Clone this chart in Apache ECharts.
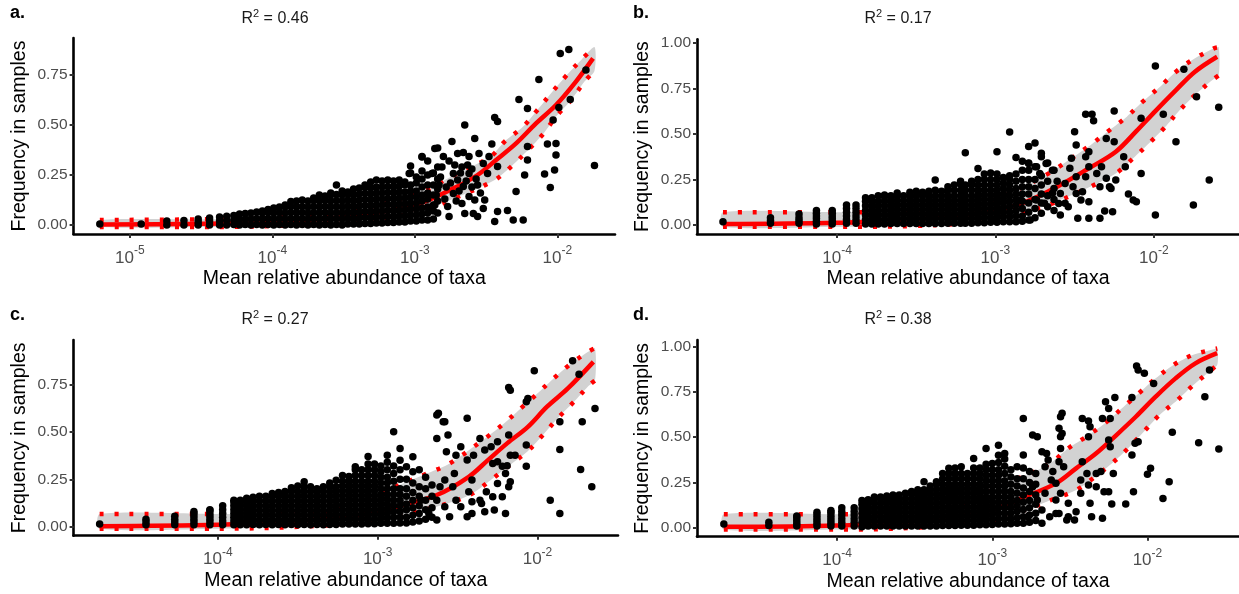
<!DOCTYPE html>
<html><head><meta charset="utf-8">
<script src="https://cdn.jsdelivr.net/npm/echarts@6/dist/echarts.min.js"></script>
<style>html,body{margin:0;padding:0;background:#fff}#c{width:1239px;height:594px}</style>
</head><body><div id="c"></div>
<script>
// ---------- text ----------
const panelLabels = ['a.', 'b.', 'c.', 'd.'];
const r2Values = ['0.46', '0.17', '0.27', '0.38'];
const xTitle = 'Mean relative abundance of taxa';
const yTitle = 'Frequency in samples';
// x ticks are log10 of mean relative abundance
const xTicksA = [-5, -4, -3, -2];
const xTicksB = [-4, -3, -2];
const xTicksC = [-4, -3, -2];
const xTicksD = [-4, -3, -2];
const yTicksAC = [0, 0.25, 0.5, 0.75];
const yTicksBD = [0, 0.25, 0.5, 0.75, 1];

// ---------- points: x = log10(mean relative abundance), y = frequency ----------
// dense part written as columns [x, y1, y2, ...]
const colsA = [
[-5.21,.005],[-4.92,.005],[-4.74,0,.02],[-4.62,0,.022],[-4.52,0,.015,.03],[-4.44,0,.02,.035],
[-4.37,0,.02,.04],[-4.32,0,.022,.044],[-4.27,.002,.025,.048],[-4.23,0,.028,.055],[-4.19,.003,.03,.058],
[-4.15,0,.03,.06],[-4.11,.003,.033,.065],[-4.07,0,.03,.06,.07],[-4.03,.003,.033,.063,.078],
[-3.99,0,.03,.06,.085],[-3.95,.003,.033,.063,.09],[-3.91,0,.03,.06,.09,.1],[-3.87,.003,.033,.063,.093,.118],
[-3.83,0,.03,.06,.09,.12],[-3.79,.003,.033,.063,.093,.125],[-3.75,0,.03,.06,.09,.12],
[-3.71,.003,.033,.063,.093,.123,.135],[-3.67,0,.03,.06,.09,.12,.15],[-3.63,.003,.033,.063,.093,.123,.145],
[-3.59,0,.03,.06,.09,.12,.15,.16],[-3.55,.003,.033,.063,.093,.123,.153,.2],[-3.51,0,.03,.06,.09,.12,.15,.17],
[-3.47,.005,.035,.065,.095,.125,.155,.165],[-3.43,.005,.03,.06,.09,.12,.15,.18],
[-3.39,.005,.035,.065,.095,.125,.155,.185],[-3.35,.008,.038,.068,.098,.128,.158,.188,.2],
[-3.31,.008,.035,.065,.095,.125,.155,.185,.215],[-3.27,.01,.04,.07,.1,.13,.16,.19,.225],
[-3.23,.01,.04,.07,.1,.13,.16,.19,.22],[-3.19,.012,.042,.072,.102,.132,.162,.192,.225],
[-3.15,.012,.04,.07,.1,.13,.16,.19,.22],[-3.11,.015,.045,.075,.105,.135,.165,.195,.225],
[-3.07,.015,.045,.075,.105,.135,.165,.2,.215],[-3.03,.02,.05,.08,.11,.14,.17,.2,.26,.295],
[-2.99,.02,.05,.08,.11,.14,.17,.21,.24],[-2.95,.025,.055,.085,.12,.15,.19,.23,.27,.34],
[-2.91,.025,.06,.09,.13,.16,.2,.25,.32],[-2.87,.03,.07,.1,.15,.2,.26],[-2.84,.06,.12,.18,.23,.29,.385]
];
const sparseA = [
[-3.04,.258],[-2.86,.383],[-2.80,.342],[-2.74,.417],[-2.70,.358],[-2.66,.362],[-2.65,.5],[-2.62,.342],
[-2.58,.433],[-2.55,.358],[-2.52,.308],[-2.49,.258],[-2.48,.342],[-2.46,.405],[-2.44,.538],[-2.42,.517],
[-2.56,.2],[-2.59,.058],[-2.52,.083],[-2.51,.125],[-2.44,.017],[-2.42,.067],[-2.35,.072],[-2.31,.025],
[-2.24,.025],[-2.29,.167],[-2.42,.292],[-2.27,.628],[-2.21,.583],[-2.23,.25],[-2.21,.325],[-2.21,.392],
[-2.13,.728],[-2.09,.255],[-2.07,.405],[-2.05,.188],[-2.03,.525],[-2.02,.275],[-2.01,.35],[-2.01,.408],
[-1.99,.588],[-1.98,.858],[-1.92,.878],[-1.91,.628],[-1.80,.775],[-1.74,.297],
[-2.77,.092],[-2.73,.158],[-2.67,.108],[-2.62,.142],[-2.66,.192],[-2.70,.225],[-2.62,.258],
[-2.76,.042],[-2.65,.058],[-2.58,.125],[-2.73,.258],[-2.67,.29],[-2.81,.29],[-2.88,.258],[-2.95,.342],[-2.56,.042],
[-2.86,.1],[-2.85,.15],[-2.83,.2],[-2.82,.24],[-2.79,.13],[-2.78,.19],[-2.76,.32],[-2.75,.21],[-2.72,.3],
[-2.71,.12],[-2.69,.17],[-2.68,.26],[-2.64,.22],[-2.63,.3],[-2.60,.19],[-2.60,.28],[-2.57,.23],[-2.54,.16]
];
const colsB = [
[-4.72,.018],[-4.42,.01,.025,.04],[-4.24,.01,.025,.04,.06],[-4.13,.005,.02,.035,.05,.065,.08],
[-4.03,.005,.02,.035,.05,.065,.08],[-3.94,.01,.03,.05,.07,.09,.11],[-3.88,.01,.03,.05,.07,.09,.11],
[-3.82,.005,.03,.055,.08,.105,.13,.15],[-3.78,.005,.03,.055,.08,.105,.13,.15],[-3.74,.005,.03,.055,.08,.105,.13,.16],
[-3.70,.005,.03,.055,.08,.105,.13,.155,.165],[-3.66,.008,.035,.06,.085,.11,.135,.16],
[-3.62,.008,.035,.06,.085,.11,.135,.16,.175],[-3.58,.008,.035,.06,.085,.11,.135,.16],
[-3.54,.008,.035,.06,.085,.11,.135,.16,.18],[-3.50,.008,.035,.06,.085,.11,.135,.16,.185],
[-3.46,.008,.035,.06,.085,.11,.135,.16,.18],[-3.42,.008,.035,.06,.085,.11,.135,.16,.185],
[-3.38,.008,.035,.06,.085,.11,.135,.16,.19,.247],[-3.34,.008,.035,.06,.085,.11,.135,.16,.185],
[-3.30,.01,.035,.06,.085,.11,.135,.16,.19,.21],[-3.26,.01,.035,.06,.085,.11,.135,.16,.19,.22],
[-3.22,.01,.035,.06,.085,.11,.135,.16,.19,.225,.24],[-3.19,.01,.035,.06,.085,.11,.135,.16,.19,.22,.397],
[-3.15,.01,.035,.06,.085,.11,.135,.16,.19,.22,.24],[-3.11,.012,.04,.065,.09,.115,.14,.165,.19,.22,.25,.31],
[-3.07,.012,.04,.065,.09,.115,.14,.165,.19,.22,.25,.28],[-3.03,.015,.04,.065,.09,.115,.14,.165,.19,.22,.25,.285],
[-2.99,.015,.04,.065,.09,.115,.14,.165,.19,.22,.25,.28,.402],[-2.95,.018,.045,.07,.095,.12,.145,.17,.2,.23,.26],
[-2.91,.018,.045,.07,.1,.13,.16,.19,.22,.25,.27,.51],[-2.87,.018,.05,.08,.11,.14,.17,.2,.24,.28,.37],
[-2.83,.02,.05,.09,.13,.17,.21,.25,.3,.35],[-2.79,.027,.07,.12,.17,.21,.25,.3,.34,.43],
[-2.75,.04,.09,.14,.2,.25,.32,.45],[-2.71,.064,.12,.17,.22,.27,.375,.393],[-2.67,.1,.16,.24,.34],[-2.63,.08,.14,.2,.3]
];
const sparseB = [
[-2.74,.32],[-2.79,.338],[-2.68,.338],[-2.64,.3],[-2.61,.24],[-2.56,.228],[-2.59,.173],[-2.60,.118],
[-2.54,.1],[-2.49,.173],[-2.46,.137],[-2.51,.21],[-2.59,.055],[-2.78,.027],[-2.48,.037],[-2.41,.037],
[-2.34,.037],[-2.26,.073],[-2.31,.077],[-2.50,.512],[-2.49,.439],[-2.43,.607],[-2.39,.607],[-2.38,.572],
[-2.41,.402],[-2.43,.375],[-2.41,.32],[-2.43,.265],[-2.41,.128],[-2.45,.183],[-2.53,.311],[-2.52,.366],
[-2.49,.265],[-2.36,.283],[-2.34,.21],[-2.30,.256],[-2.33,.32],[-2.30,.475],[-2.25,.625],[-2.25,.457],
[-2.24,.247],[-2.28,.21],[-2.27,.2],[-2.19,.375],[-2.18,.32],[-2.16,.17],[-2.13,.137],[-2.11,.128],
[-2.08,.283],[-2.08,.585],[-1.99,.872],[-1.99,.055],[-1.94,.607],[-1.86,.457],[-1.81,.854],[-1.75,.11],
[-1.73,.704],[-1.65,.247],[-1.59,.646],[-2.84,.137],[-2.74,.137],[-2.69,.119],[-2.64,.174],[-2.56,.119],[-2.72,.283]
];
const colsC = [
[-4.74,.014],[-4.45,.01,.025,.04],[-4.27,.01,.025,.04,.055],[-4.15,.01,.025,.04,.055,.07,.08],
[-4.05,.01,.025,.04,.055,.07,.085,.09],[-3.97,.01,.03,.05,.07,.09,.11],[-3.90,.01,.03,.05,.07,.09,.11,.13,.14],
[-3.86,.01,.03,.05,.07,.09,.11,.13,.14],[-3.82,.01,.03,.05,.07,.09,.11,.13,.15],
[-3.78,.012,.035,.06,.085,.11,.135,.155],[-3.74,.01,.035,.06,.085,.11,.135,.16],
[-3.70,.012,.035,.06,.085,.11,.135,.16],[-3.66,.01,.035,.06,.085,.11,.135,.16,.175],
[-3.62,.012,.035,.06,.085,.11,.135,.16,.18],[-3.58,.01,.035,.06,.085,.11,.135,.16,.185],
[-3.54,.012,.035,.06,.085,.11,.135,.16,.185,.205],[-3.50,.01,.035,.06,.085,.11,.135,.16,.185,.215],
[-3.46,.012,.035,.06,.085,.11,.135,.16,.185,.21,.237],[-3.42,.01,.035,.06,.085,.11,.135,.16,.185,.21],
[-3.38,.012,.035,.06,.085,.11,.135,.16,.185,.2],[-3.34,.01,.035,.06,.085,.11,.135,.16,.185,.21],
[-3.30,.012,.035,.06,.085,.11,.135,.16,.185,.21,.23],[-3.26,.012,.035,.06,.085,.11,.135,.16,.185,.21,.245],
[-3.22,.014,.04,.065,.09,.115,.14,.165,.19,.215,.24,.27],[-3.18,.014,.04,.065,.09,.115,.14,.165,.19,.215,.24,.265],
[-3.14,.014,.04,.065,.09,.115,.14,.165,.19,.215,.24,.27,.3,.316],[-3.10,.014,.04,.065,.09,.115,.14,.165,.19,.215,.24,.27,.3],
[-3.06,.016,.04,.065,.09,.115,.14,.165,.19,.215,.24,.27,.3,.33,.37],[-3.02,.016,.04,.065,.09,.115,.14,.165,.19,.215,.24,.27,.3,.33],
[-2.98,.018,.045,.07,.095,.12,.145,.17,.2,.23,.26,.29,.32],[-2.94,.018,.045,.07,.095,.12,.145,.17,.2,.23,.26,.3,.34,.377],
[-2.90,.018,.05,.08,.11,.14,.17,.2,.24,.28,.32,.5],[-2.86,.02,.05,.08,.11,.14,.17,.2,.25,.3,.35,.412],
[-2.82,.02,.05,.09,.12,.16,.2,.25,.316],[-2.78,.025,.06,.1,.14,.18,.23,.29,.368],
[-2.74,.03,.07,.11,.16,.21,.3],[-2.70,.04,.09,.14,.2,.26],[-2.66,.05,.1,.16,.22]
];
const sparseC = [
[-2.63,.588],[-2.62,.597],[-2.59,.553],[-2.58,.553],[-2.63,.465],[-2.56,.483],[-2.44,.571],[-2.57,.395],
[-2.51,.377],[-2.48,.421],[-2.44,.351],[-2.40,.377],[-2.52,.281],[-2.58,.246],[-2.41,.246],[-2.53,.21],
[-2.43,.184],[-2.51,.14],[-2.41,.132],[-2.36,.14],[-2.41,.07],[-2.35,.123],[-2.33,.079],[-2.44,.053],
[-2.20,.07],[-2.27,.088],[-2.28,.158],[-2.32,.184],[-2.33,.404],[-2.29,.421],[-2.36,.465],[-2.28,.333],
[-2.25,.447],[-2.25,.342],[-2.22,.319],[-2.22,.158],[-2.25,.228],[-2.20,.281],[-2.19,.321],[-2.18,.21],
[-2.17,.237],[-2.18,.483],[-2.18,.733],[-2.17,.719],[-2.17,.377],[-2.14,.377],[-2.07,.43],[-2.07,.319],
[-2.06,.675],[-2.07,.658],[-2.02,.821],[-1.92,.14],[-1.86,.07],[-1.86,.407],[-1.86,.553],[-1.78,.874],
[-1.74,.803],[-1.72,.553],[-1.73,.302],[-1.66,.21],[-1.64,.623],
[-2.63,.14],[-2.58,.105],[-2.68,.07],[-2.55,.053],[-2.73,.14],[-2.61,.21],[-2.48,.105],[-2.63,.035]
];
const colsD = [
[-4.73,.02],[-4.44,.012,.03],[-4.26,.01,.025,.04,.055,.065],[-4.13,.01,.025,.04,.055,.07,.085],
[-4.04,.01,.025,.04,.055,.07,.085,.095],[-3.97,.01,.03,.05,.07,.09,.11],[-3.89,.01,.03,.05,.07,.09,.11],
[-3.84,.005,.03,.055,.08,.105,.13,.15],[-3.80,.01,.035,.06,.085,.11,.135,.155],
[-3.76,.01,.035,.06,.085,.11,.135,.16,.17],[-3.72,.01,.035,.06,.085,.11,.135,.16,.17],
[-3.68,.01,.035,.06,.085,.11,.135,.16,.175],[-3.64,.01,.035,.06,.085,.11,.135,.16,.18],
[-3.60,.01,.035,.06,.085,.11,.135,.16,.18],[-3.56,.01,.035,.06,.085,.11,.135,.16,.19],
[-3.52,.01,.035,.06,.085,.11,.135,.16,.185,.2],[-3.48,.01,.035,.06,.085,.11,.135,.16,.185,.21],
[-3.44,.01,.035,.06,.085,.11,.135,.16,.185,.21,.254],[-3.40,.01,.035,.06,.085,.11,.135,.16,.185,.21,.23],
[-3.36,.01,.035,.06,.085,.11,.135,.16,.185,.21,.24,.254],[-3.32,.012,.04,.065,.09,.115,.14,.165,.19,.215,.24,.27,.3],
[-3.28,.012,.04,.065,.09,.115,.14,.165,.19,.215,.24,.27,.3,.328],[-3.24,.012,.04,.065,.09,.115,.14,.165,.19,.215,.24,.27,.3,.33],
[-3.20,.014,.04,.065,.09,.115,.14,.165,.19,.215,.24,.27,.3,.337],[-3.16,.014,.04,.065,.09,.115,.14,.165,.19,.215,.24,.27,.3],
[-3.12,.014,.04,.065,.09,.115,.14,.165,.19,.215,.24,.27,.3,.33,.383],[-3.08,.016,.04,.065,.09,.115,.14,.165,.19,.215,.24,.27,.3,.33],
[-3.04,.016,.045,.07,.095,.12,.145,.17,.2,.23,.26,.29,.32,.35,.438],[-3.00,.018,.045,.07,.095,.12,.145,.17,.2,.23,.26,.29,.32,.355],
[-2.96,.02,.05,.08,.11,.14,.17,.2,.23,.26,.29,.32,.36,.4,.456],[-2.92,.02,.05,.08,.11,.14,.17,.2,.23,.26,.3,.34,.38,.41],
[-2.88,.022,.05,.08,.11,.14,.17,.2,.24,.28,.32],[-2.84,.024,.055,.09,.12,.15,.19,.23,.27,.337],
[-2.80,.025,.06,.1,.14,.18,.22,.27,.33,.401,.604],[-2.76,.03,.07,.11,.15,.2,.25,.31],[-2.72,.04,.08,.13,.18,.24,.3]
];
const sparseD = [
[-2.74,.512],[-2.71,.503],[-2.68,.42],[-2.65,.41],[-2.64,.374],[-2.66,.337],[-2.61,.31],[-2.62,.263],
[-2.59,.245],[-2.56,.613],[-2.55,.632],[-2.57,.549],[-2.55,.521],[-2.56,.503],[-2.56,.438],[-2.57,.365],
[-2.54,.337],[-2.56,.19],[-2.59,.153],[-2.51,.135],[-2.57,.079],[-2.51,.061],[-2.47,.042],[-2.52,.042],
[-2.46,.088],[-2.42,.604],[-2.38,.59],[-2.37,.558],[-2.38,.503],[-2.42,.365],[-2.39,.3],[-2.43,.263],
[-2.43,.19],[-2.38,.236],[-2.37,.135],[-2.36,.061],[-2.29,.052],[-2.33,.3],[-2.30,.31],[-2.33,.226],
[-2.28,.199],[-2.25,.199],[-2.27,.696],[-2.25,.659],[-2.29,.604],[-2.24,.604],[-2.25,.484],[-2.24,.447],
[-2.22,.3],[-2.21,.72],[-2.23,.131],[-2.14,.131],[-2.10,.401],[-2.10,.72],[-2.08,.466],[-2.09,.199],
[-2.06,.475],[-2.07,.893],[-2.06,.871],[-2.02,.853],[-1.96,.797],[-2.00,.296],[-1.98,.328],[-1.90,.162],
[-1.86,.254],[-1.84,.527],[-1.67,.47],[-1.63,.724],[-1.60,.871],[-1.54,.435],
[-2.71,.153],[-2.68,.098],[-2.63,.061],[-2.74,.226],[-2.66,.19],[-2.59,.079],[-2.77,.061],[-2.68,.024]
];

// ---------- neutral model fit (solid) and 95% bounds (dotted / grey band) ----------
const fitA = [[-5.21,.003],[-4.5,.006],[-4,.015],[-3.5,.04],[-3,.1],[-2.73,.183],[-2.56,.25],[-2.43,.325],[-2.29,.408],[-2.15,.508],[-2.01,.6],[-1.87,.717],[-1.75,.833]];
const upperA = [[-5.21,.025],[-4.5,.028],[-4,.035],[-3.5,.065],[-3,.15],[-2.75,.24],[-2.47,.342],[-2.37,.417],[-2.24,.492],[-2.14,.575],[-2.04,.662],[-1.94,.745],[-1.83,.828],[-1.74,.89]];
const lowerA = [[-5.21,-.01],[-4.5,-.01],[-4,-.005],[-3.5,.015],[-3,.06],[-2.7,.14],[-2.44,.225],[-2.32,.295],[-2.21,.372],[-2.10,.455],[-2.01,.542],[-1.90,.628],[-1.81,.717],[-1.74,.77]];
const fitB = [[-4.72,.005],[-4,.012],[-3.5,.03],[-3,.08],[-2.8,.13],[-2.61,.21],[-2.41,.311],[-2.24,.402],[-2.11,.515],[-1.99,.625],[-1.86,.74],[-1.74,.841],[-1.6,.923]];
const upperB = [[-4.72,.07],[-4,.07],[-3.5,.075],[-3.2,.1],[-3,.14],[-2.8,.22],[-2.65,.29],[-2.53,.36],[-2.39,.445],[-2.28,.52],[-2.17,.594],[-2.07,.677],[-1.96,.759],[-1.86,.841],[-1.75,.909],[-1.62,.969],[-1.59,.975]];
const lowerB = [[-4.72,-.01],[-4,-.01],[-3.5,-.005],[-3,.03],[-2.7,.1],[-2.45,.19],[-2.24,.283],[-2.13,.366],[-2.03,.448],[-1.93,.536],[-1.84,.627],[-1.74,.713],[-1.63,.795],[-1.59,.82]];
const fitC = [[-4.74,.003],[-4,.01],[-3.5,.03],[-3,.075],[-2.88,.105],[-2.63,.167],[-2.43,.263],[-2.31,.351],[-2.19,.439],[-2.06,.526],[-1.94,.632],[-1.81,.728],[-1.65,.868]];
const upperC = [[-4.74,.067],[-4,.067],[-3.5,.07],[-3.2,.1],[-2.95,.19],[-2.68,.284],[-2.55,.333],[-2.32,.47],[-2.215,.54],[-2.11,.619],[-2.006,.697],[-1.904,.777],[-1.795,.855],[-1.683,.921],[-1.64,.94]];
const lowerC = [[-4.74,-.01],[-4,-.01],[-3.5,0],[-3,.03],[-2.7,.09],[-2.5,.14],[-2.396,.181],[-2.284,.251],[-2.173,.325],[-2.061,.398],[-1.966,.483],[-1.875,.57],[-1.775,.655],[-1.681,.741],[-1.64,.77]];
const fitD = [[-4.73,.005],[-4,.012],[-3.5,.035],[-3,.1],[-2.79,.171],[-2.59,.245],[-2.46,.328],[-2.33,.411],[-2.2,.512],[-2.075,.613],[-1.947,.724],[-1.819,.825],[-1.691,.908],[-1.551,.964]];
const upperD = [[-4.73,.074],[-4,.074],[-3.5,.08],[-3.2,.13],[-2.9,.25],[-2.75,.3],[-2.612,.365],[-2.51,.439],[-2.394,.503],[-2.274,.577],[-2.164,.66],[-2.055,.743],[-1.947,.825],[-1.832,.899],[-1.709,.954],[-1.572,.986],[-1.55,.99]];
const lowerD = [[-4.73,-.01],[-4,-.01],[-3.5,0],[-3,.04],[-2.75,.11],[-2.6,.16],[-2.459,.208],[-2.343,.278],[-2.228,.356],[-2.121,.442],[-2.024,.53],[-1.927,.619],[-1.806,.706],[-1.704,.788],[-1.602,.862],[-1.55,.9]];

// ---------- layout ----------
const FONT = '"Liberation Sans", Arial, sans-serif';
const panels = [
  {cols: colsA, sparse: sparseA, fit: fitA, up: upperA, lo: lowerA, xt: xTicksA, yt: yTicksAC,
   grid: {left: 73.6, top: 38, width: 541.4, height: 196}, x: [-5.394, -1.596], y: [-0.045, 0.935],
   lab: [10, 4], r2: [275, 8]},
  {cols: colsB, sparse: sparseB, fit: fitB, up: upperB, lo: lowerB, xt: xTicksB, yt: yTicksBD,
   grid: {left: 697, top: 39.3, width: 542, height: 194.7}, x: [-4.884, -1.462], y: [-0.0494, 1.0187],
   lab: [633, 4], r2: [898, 8]},
  {cols: colsC, sparse: sparseC, fit: fitC, up: upperC, lo: lowerC, xt: xTicksC, yt: yTicksAC,
   grid: {left: 73.6, top: 340, width: 544.4, height: 195.7}, x: [-4.903, -1.496], y: [-0.047, 0.983],
   lab: [10, 306], r2: [275, 309]},
  {cols: colsD, sparse: sparseD, fit: fitD, up: upperD, lo: lowerD, xt: xTicksD, yt: yTicksBD,
   grid: {left: 697, top: 340, width: 542, height: 196.7}, x: [-4.903, -1.41], y: [-0.0497, 1.037],
   lab: [633, 306], r2: [898, 309]}
];

function flatten(cols, sparse) {
  const out = [];
  cols.forEach(c => { for (let i = 1; i < c.length; i++) out.push([c[0], c[i]]); });
  return out.concat(sparse);
}

const option = {animation: false, backgroundColor: '#fff', grid: [], xAxis: [], yAxis: [], title: [], series: []};
const tickColor = '#333333';
panels.forEach((p, i) => {
  option.grid.push(Object.assign({containLabel: false}, p.grid));
  option.xAxis.push({
    type: 'value', gridIndex: i, min: p.x[0], max: p.x[1],
    name: xTitle, nameLocation: 'middle', nameGap: 35,
    nameTextStyle: {fontSize: 19.5, color: '#000', fontFamily: FONT},
    axisLine: {show: true, onZero: false, lineStyle: {color: '#000', width: 2.6}},
    axisTick: {show: true, customValues: p.xt, length: 4, lineStyle: {color: tickColor, width: 2}},
    axisLabel: {show: true, customValues: p.xt, margin: 11, fontSize: 17, color: '#4d4d4d', fontFamily: FONT,
      formatter: v => '{b|10}{s|' + Math.round(v) + '}',
      rich: {b: {fontSize: 17, color: '#4d4d4d', fontFamily: FONT, lineHeight: 26, verticalAlign: 'middle'},
             s: {fontSize: 12, color: '#4d4d4d', fontFamily: FONT, verticalAlign: 'top', lineHeight: 12}}},
    splitLine: {show: false}
  });
  option.yAxis.push({
    type: 'value', gridIndex: i, min: p.y[0], max: p.y[1],
    name: yTitle, nameLocation: 'middle', nameGap: 44,
    nameTextStyle: {fontSize: 19.5, color: '#000', fontFamily: FONT},
    axisLine: {show: true, onZero: false, lineStyle: {color: '#000', width: 2.6}},
    axisTick: {show: true, customValues: p.yt, length: 4, lineStyle: {color: tickColor, width: 2}},
    axisLabel: {show: true, customValues: p.yt, margin: 6, fontSize: 15.5, color: '#4d4d4d', fontFamily: FONT,
      formatter: v => v.toFixed(2)},
    splitLine: {show: false}
  });
  option.title.push({text: panelLabels[i], left: p.lab[0], top: p.lab[1], padding: 0,
    textStyle: {fontSize: 18, fontWeight: 'bold', color: '#000', fontFamily: FONT}});
  option.title.push({text: 'R{s|2} = ' + r2Values[i], left: p.r2[0], top: p.r2[1], padding: 0, textAlign: 'center',
    textStyle: {fontSize: 16, fontWeight: 'normal', color: '#1a1a1a', fontFamily: FONT, lineHeight: 22,
      rich: {s: {fontSize: 11, color: '#1a1a1a', fontFamily: FONT, verticalAlign: 'top', lineHeight: 11}}}});
  const up = p.up, lo = p.lo;
  option.series.push({
    type: 'custom', xAxisIndex: i, yAxisIndex: i, silent: true, z: 1, data: [[p.x[0], 0]],
    renderItem: (params, api) => {
      const pts = up.map(q => api.coord(q)).concat(lo.slice().reverse().map(q => api.coord(q)));
      return {type: 'polygon', shape: {points: pts, smooth: 0.25}, style: {fill: '#d2d2d2'}};
    }
  });
  [up, lo].forEach(b => option.series.push({
    type: 'line', xAxisIndex: i, yAxisIndex: i, data: b, smooth: 0.35, showSymbol: false, silent: true, z: 2,
    lineStyle: {color: '#ff0000', width: 4.5, type: [4, 11], cap: 'butt'}
  }));
  option.series.push({
    type: 'line', xAxisIndex: i, yAxisIndex: i, data: p.fit, smooth: 0.35, showSymbol: false, silent: true, z: 3,
    lineStyle: {color: '#ff0000', width: 4.5}
  });
  option.series.push({
    type: 'scatter', xAxisIndex: i, yAxisIndex: i, data: flatten(p.cols, p.sparse), symbolSize: 7.5, z: 4,
    itemStyle: {color: '#000', opacity: 1}
  });
});
const chart = echarts.init(document.getElementById('c'), null, {renderer: 'canvas'});
chart.setOption(option);
</script></body></html>
